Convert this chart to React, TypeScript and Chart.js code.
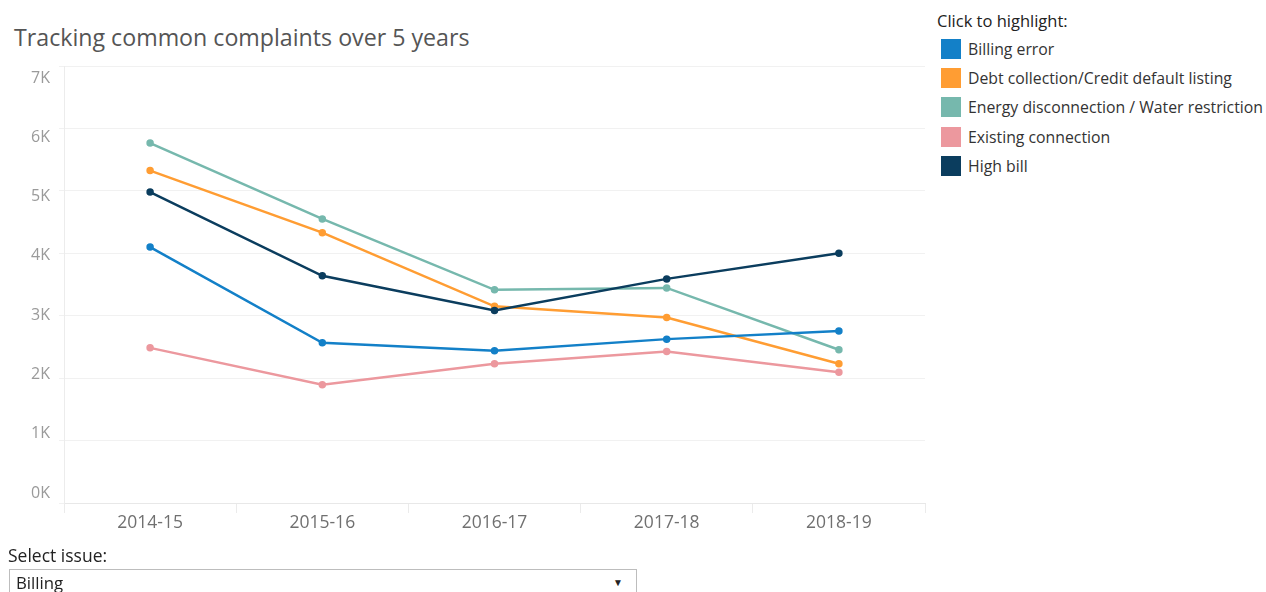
import React, { useEffect, useRef } from "react";
import { Chart, registerables } from "chart.js";

Chart.register(...registerables);

const TITLE = "Tracking common complaints over 5 years";
const LEGEND_TITLE = "Click to highlight:";
const categories = ["2014-15", "2015-16", "2016-17", "2017-18", "2018-19"];
const yTickValues = [0, 1000, 2000, 3000, 4000, 5000, 6000, 7000];
const yTickLabels = ["0K", "1K", "2K", "3K", "4K", "5K", "6K", "7K"];

const seriesNames = [
  "Billing error",
  "Debt collection/Credit default listing",
  "Energy disconnection / Water restriction",
  "Existing connection",
  "High bill",
];
const seriesColors = ["#1380c8", "#ff9d33", "#76b8ad", "#ec989e", "#0b3d5e"];

const billingError = [4100, 2565, 2440, 2625, 2755];
const debtCollection = [5325, 4330, 3150, 2970, 2230];
const energyDisconnection = [5765, 4550, 3415, 3445, 2455];
const existingConnection = [2485, 1895, 2230, 2425, 2095];
const highBill = [4980, 3640, 3085, 3590, 4000];
const seriesValues = [billingError, debtCollection, energyDisconnection, existingConnection, highBill];
const drawOrder = [1, 2, 3, 4, 0];

const FONT = "'Open Sans', sans-serif";

export default function App() {
  const ref = useRef<HTMLCanvasElement | null>(null);

  useEffect(() => {
    if (!ref.current) return;
    const chart = new Chart(ref.current, {
      type: "line",
      data: {
        labels: categories,
        datasets: seriesNames.map((name, i) => ({
          label: name,
          data: seriesValues[i],
          borderColor: seriesColors[i],
          backgroundColor: seriesColors[i],
          pointBackgroundColor: seriesColors[i],
          pointBorderColor: seriesColors[i],
          borderWidth: 2.5,
          pointRadius: 2.5,
          tension: 0,
          order: drawOrder[i],
          yAxisID: "y",
        })),
      },
      options: {
        animation: false,
        responsive: false,
        maintainAspectRatio: false,
        layout: { padding: { top: 16, right: 10, left: 0, bottom: 0 } },
        plugins: { legend: { display: false }, tooltip: { enabled: false } },
        scales: {
          x: {
            type: "category",
            offset: true,
            grid: {
              offset: true,
              drawOnChartArea: false,
              drawTicks: true,
              tickLength: 10,
              color: "#ebebeb",
            },
            border: { display: true, color: "#e8e8e8" },
            ticks: {
              color: "#707070",
              padding: 0,
              font: { family: FONT, size: 17.5 },
              maxRotation: 0,
            },
            afterFit: (s: any) => {
              s.height = 47;
            },
          },
          y: {
            position: "left",
            min: 0,
            max: 7000,
            ticks: { display: false, stepSize: 1000 },
            grid: { color: "#f1f1f1", drawTicks: true, tickLength: 5 },
            border: { display: true, color: "#ececec" },
            afterFit: (s: any) => {
              s.width = 0;
            },
          },
          yl: {
            position: "left",
            min: -168.7,
            max: 7202.4,
            grid: { display: false },
            border: { display: false },
            afterBuildTicks: (s: any) => {
              s.ticks = yTickValues.map((v) => ({ value: v }));
            },
            ticks: {
              color: "#9a9a9a",
              padding: 6,
              font: { family: FONT, size: 16 },
              callback: (_v: any, idx: number) => yTickLabels[idx],
            },
            afterFit: (s: any) => {
              s.width = 64;
            },
          },
        },
      },
    });
    return () => chart.destroy();
  }, []);

  return (
    <div
      style={{
        position: "fixed",
        left: 0,
        top: 0,
        width: 1266,
        height: 592,
        overflow: "hidden",
        background: "#fff",
        fontFamily: FONT,
      }}
    >
      <div
        style={{
          position: "absolute",
          left: 14,
          top: 21,
          fontSize: 23.2,
          color: "#555",
          lineHeight: "32px",
          whiteSpace: "nowrap",
        }}
      >
        {TITLE}
      </div>
      <canvas
        ref={ref}
        width={935}
        height={500}
        style={{ position: "absolute", left: 0, top: 50, width: 935, height: 500 }}
      />
      <div style={{ position: "absolute", left: 937, top: 9, fontSize: 16.5, color: "#222", lineHeight: "24px", whiteSpace: "nowrap" }}>
        {LEGEND_TITLE}
      </div>
      {seriesNames.map((name, i) => (
        <div
          key={name}
          style={{ position: "absolute", left: 941, top: 38 + i * 29.2, height: 22, display: "flex", alignItems: "center", whiteSpace: "nowrap" }}
        >
          <div style={{ width: 20, height: 20, background: seriesColors[i], marginRight: 7 }} />
          <span style={{ fontSize: 15.8, color: "#333" }}>{name}</span>
        </div>
      ))}
      <div style={{ position: "absolute", left: 8, top: 543, fontSize: 17.5, color: "#222", lineHeight: "24px", whiteSpace: "nowrap" }}>
        Select issue:
      </div>
      <div
        style={{
          position: "absolute",
          left: 9,
          top: 569,
          width: 628,
          height: 30,
          border: "1px solid #bdbdbd",
          boxSizing: "border-box",
          background: "#fff",
        }}
      >
        <span style={{ position: "absolute", left: 6, top: 1, fontSize: 16.8, color: "#222", lineHeight: "24px" }}>Billing</span>
        <span style={{ position: "absolute", left: 603, top: 3, fontSize: 10, color: "#222", lineHeight: "18px" }}>▼</span>
      </div>
    </div>
  );
}
